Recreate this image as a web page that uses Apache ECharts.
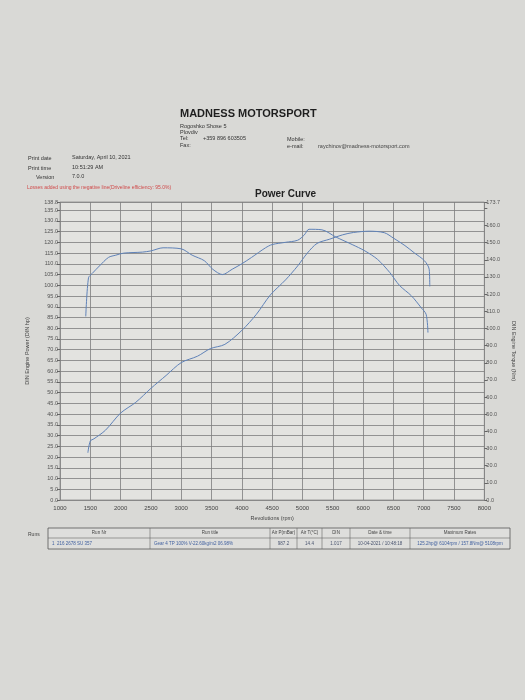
<!DOCTYPE html>
<html><head><meta charset="utf-8">
<script src="https://cdn.jsdelivr.net/npm/echarts@6/dist/echarts.min.js"></script>
<style>html,body{margin:0;padding:0;background:#d9d9d6}#c{width:525px;height:700px}</style>
</head><body><div id="c"></div>
<script>
// ---- data ----
const rpmPower = [1460,1500,1560,1750,2000,2250,2500,2750,3000,3270,3480,3720,4000,4240,4470,4720,4920,5080,5240,5450,5660,5840,6100,6350,6500,6690,6850,7010,7090,7100];
const powerHp  = [22,27.5,28.5,32.5,40.5,45.5,52,58,64,67,70.5,72.5,79,86.5,95.5,102.5,109,115,119.5,121.5,123.5,124.6,125.2,124.5,122,118.5,115,111.5,107.5,99.5];
const rpmTorque = [1425,1470,1530,1650,1800,1920,2050,2360,2500,2700,3000,3180,3380,3520,3680,3840,4000,4160,4390,4500,4720,4920,5030,5108,5320,5550,5820,6030,6240,6440,6600,6800,6960,7040,7070];
const torqueNm  = [107,129.5,132,136.4,141.4,142.7,143.9,144.5,145.2,147,146.4,142.7,139.5,134.5,131.4,134.5,137.7,141.4,147,148.9,150.2,151.4,154.5,157.8,157.5,153.3,148.9,145.2,140.2,132.6,125.1,118.9,112,108.2,97.6];
const xRange = [1000, 8000], xStep = 500;
const powerRange = [0, 138.8], powerStep = 5;
const torqueRange = [0, 173.7], torqueStep = 10;

const tableHeaders = ['Run Nr','Run title','Air P(mBar)','Air T(°C)','DIN','Date & time','Maximum Rates'];
const tableRow = ['1  216 2678 SU 357','Gear 4 TP 100% V-22.60kg/m2 06.98%','987.2','14.4','1.017','10-04-2021 / 10:48:18','125.2hp@ 6104rpm / 157.8Nm@ 5108rpm'];

const F = 'Liberation Sans, Arial, sans-serif';
const chart = echarts.init(document.getElementById('c'));

const txt = (x, y, s, size, color, weight) => ({type:'text', left:x, top:y, silent:true,
  style:{text:s, font:(weight||'normal')+' '+size+'px '+F, fill:color||'#333'}});

const colX = [48,150,270,297,322,350,410,510];
const rowY = [528,538,549];
const tableEls = [];
tableEls.push({type:'rect', shape:{x:colX[0], y:rowY[0], width:colX[7]-colX[0], height:rowY[2]-rowY[0]}, style:{fill:'rgba(255,255,255,0.15)', stroke:'#555', lineWidth:0.8}});
tableEls.push({type:'line', shape:{x1:colX[0], y1:rowY[1], x2:colX[7], y2:rowY[1]}, style:{stroke:'#666', lineWidth:0.6}});
for (let i = 1; i < colX.length - 1; i++) tableEls.push({type:'line', shape:{x1:colX[i], y1:rowY[0], x2:colX[i], y2:rowY[2]}, style:{stroke:'#666', lineWidth:0.6}});
for (let i = 0; i < tableHeaders.length; i++) {
  const cx = (colX[i] + colX[i+1]) / 2;
  tableEls.push({type:'text', x:cx, y:rowY[0]+5, silent:true, style:{text:tableHeaders[i], font:'4.5px '+F, fill:'#444', align:'center', verticalAlign:'middle'}});
  const left = i < 2;
  tableEls.push({type:'text', x:left ? colX[i]+4 : cx, y:rowY[1]+5.5, silent:true, style:{text:tableRow[i], font:'4.5px '+F, fill:(i===0||i===1||i===6)?'#3f5f9f':'#4a5570', align:left?'left':'center', verticalAlign:'middle'}});
}

const fmtY = (max, step) => v => (v !== max && max - v < step) ? '' : v.toFixed(1);

chart.setOption({
  backgroundColor: '#d9d9d6',
  animation: false,
  title: {text:'Power Curve', left:250, top:184, textStyle:{fontFamily:F, fontSize:10, fontWeight:'bold', color:'#222'}},
  grid: {left:60, right:28, top:202, bottom:200, show:true, backgroundColor:'#e3e3e0', borderColor:'#8a8a8a', borderWidth:0.8},
  xAxis: {type:'value', min:xRange[0], max:xRange[1], interval:xStep,
    name:'Revolutions (rpm)', nameLocation:'middle', nameGap:15, nameTextStyle:{fontFamily:F, fontSize:5.5, color:'#444'},
    axisLine:{lineStyle:{color:'#888'}}, axisTick:{show:false},
    axisLabel:{fontFamily:F, fontSize:6, color:'#444', margin:5, formatter: v => String(v)},
    splitLine:{show:true, lineStyle:{color:'#7d7d7d', width:0.8}}},
  yAxis: [
    {type:'value', min:powerRange[0], max:powerRange[1], interval:powerStep, position:'left',
     name:'DIN Engine Power (DIN hp)', nameLocation:'middle', nameGap:30, nameRotate:90,
     nameTextStyle:{fontFamily:F, fontSize:5.5, color:'#444'},
     axisLine:{show:false}, axisTick:{show:true, length:3, lineStyle:{color:'#666'}},
     axisLabel:{fontFamily:F, fontSize:5.5, lineHeight:6, color:'#555', margin:2, showMaxLabel:true,
       formatter: v => v.toFixed(1)},
     splitLine:{show:true, lineStyle:{color:'#7d7d7d', width:0.8}}},
    {type:'value', min:torqueRange[0], max:torqueRange[1], interval:torqueStep, position:'right',
     name:'DIN Engine Torque (Nm)', nameLocation:'middle', nameGap:22, nameRotate:-90,
     nameTextStyle:{fontFamily:F, fontSize:5.5, color:'#444'},
     axisLine:{show:false}, axisTick:{show:true, length:3, lineStyle:{color:'#666'}},
     axisLabel:{fontFamily:F, fontSize:5.5, lineHeight:6, color:'#555', margin:2, showMaxLabel:true,
       formatter: fmtY(torqueRange[1], torqueStep)},
     splitLine:{show:false}}
  ],
  series: [
    {name:'Power', type:'line', yAxisIndex:0, data:rpmPower.map((r,i)=>[r,powerHp[i]]),
     showSymbol:false, smooth:0.3, lineStyle:{color:'#5f82b8', width:1}},
    {name:'Torque', type:'line', yAxisIndex:1, data:rpmTorque.map((r,i)=>[r,torqueNm[i]]),
     showSymbol:false, smooth:0.3, lineStyle:{color:'#5f82b8', width:1}}
  ],
  graphic: [
    txt(180,108,'MADNESS MOTORSPORT',11,'#1e1e1e','bold'),
    txt(180,123,'Rogoshko Shose 5',5.5,'#333'),
    txt(180,129,'Plovdiv',5.5,'#333'),
    txt(180,135,'Tel:',5.5,'#333'),
    txt(203,135,'+359 896 603505',5.5,'#333'),
    txt(180,142,'Fax:',5.5,'#333'),
    txt(287,136,'Mobile:',5.5,'#333'),
    txt(287,143,'e-mail:',5.5,'#333'),
    txt(318,143,'raychinov@madness-motorsport.com',5.5,'#444'),
    txt(28,155,'Print date',5.5,'#333'),
    txt(72,154,'Saturday, April 10, 2021',5.5,'#333'),
    txt(28,165,'Print time',5.5,'#333'),
    txt(72,164,'10:51:29 AM',5.5,'#333'),
    txt(36,174,'Version',5.5,'#333'),
    txt(72,173,'7.0.0',5.5,'#333'),
    txt(27,185,'Losses added using the negative line(Driveline efficiency: 95.0%)',5,'#d04a4a'),
    txt(28,532,'Runs',5,'#444')
  ].concat(tableEls)
});
</script></body></html>
